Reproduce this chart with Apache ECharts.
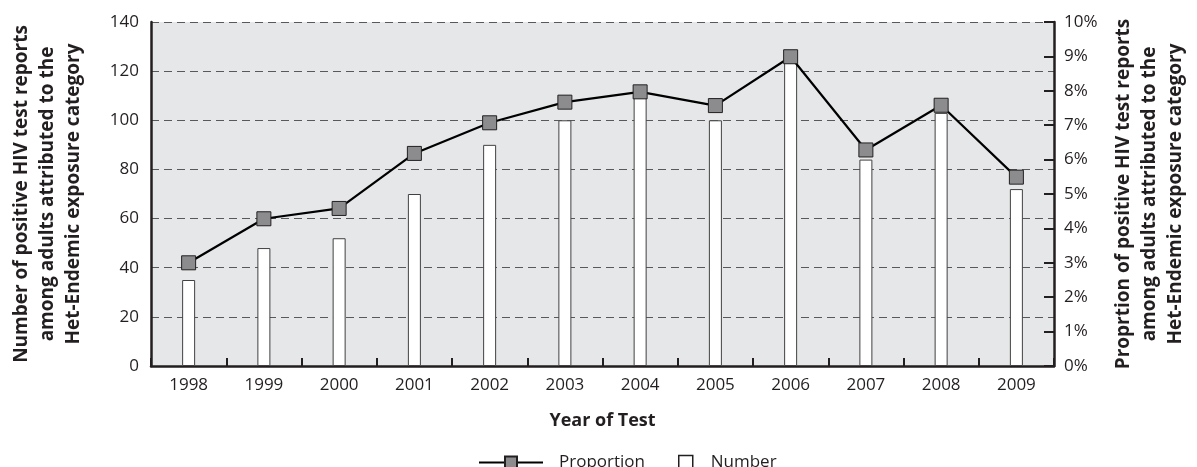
<!DOCTYPE html>
<html>
<head>
<meta charset="utf-8">
<script src="https://cdn.jsdelivr.net/npm/echarts@6/dist/echarts.min.js"></script>
<style>
html,body{margin:0;padding:0;background:#fff;}
#chart{width:1197px;height:467px;}
</style>
</head>
<body>
<div id="chart"></div>
<script>
const years = ['1998','1999','2000','2001','2002','2003','2004','2005','2006','2007','2008','2009'];
const numberValues = [35, 48, 52, 70, 90, 100, 110, 100, 124, 84, 103, 72];
const proportionValues = [3.0, 4.28, 4.58, 6.18, 7.07, 7.67, 7.97, 7.57, 8.99, 6.28, 7.58, 5.49];
const leftTicks = {min: 0, max: 140, interval: 20};
const rightTicks = {min: 0, max: 10, interval: 1};
const leftTitle = 'Number of positive HIV test reports\namong adults attributed to the\nHet-Endemic exposure category';
const rightTitle = 'Proprtion of positive HIV test reports\namong adults attributed to the\nHet-Endemic exposure category';
const xTitle = 'Year of Test';

const FONT = '"Open Sans", sans-serif';
const TXT = '#231f20';
const chart = echarts.init(document.getElementById('chart'), null, {renderer: 'canvas'});
chart.setOption({
  animation: false,
  textStyle: {fontFamily: FONT, color: TXT},
  grid: {left: 151, right: 135, top: 22, bottom: 101, show: true, backgroundColor: '#e6e7e8', borderWidth: 0},
  legend: [
    {
      left: 473, top: 449, itemWidth: 64, itemHeight: 15,
      textStyle: {fontFamily: FONT, fontSize: 17, color: TXT, padding: [0, 0, 0, 11]},
      data: [{name: 'Proportion'}]
    },
    {
      left: 673, top: 449, itemWidth: 14, itemHeight: 14,
      textStyle: {fontFamily: FONT, fontSize: 17, color: TXT, padding: [0, 0, 0, 13]},
      data: [{name: 'Number', icon: 'rect', itemStyle: {color: '#fff', borderColor: '#231f20', borderWidth: 1.5}}]
    }
  ],
  xAxis: {
    type: 'category',
    data: years,
    boundaryGap: true,
    name: xTitle,
    nameLocation: 'middle',
    nameGap: 46,
    nameTextStyle: {fontFamily: FONT, fontSize: 18, fontWeight: 'bold', color: TXT},
    axisLine: {lineStyle: {color: '#231f20', width: 2.5}},
    axisTick: {show: true, inside: true, length: 8, interval: 0, lineStyle: {color: '#231f20', width: 2}},
    axisLabel: {fontFamily: FONT, fontSize: 17, color: TXT, margin: 11},
    splitLine: {show: false}
  },
  yAxis: [
    {
      type: 'value',
      min: leftTicks.min, max: leftTicks.max, interval: leftTicks.interval,
      name: leftTitle,
      nameLocation: 'middle',
      nameRotate: 90,
      nameGap: 64,
      nameTextStyle: {fontFamily: FONT, fontSize: 19, fontWeight: 'bold', color: TXT, lineHeight: 26, align: 'center'},
      axisLine: {show: true, lineStyle: {color: '#231f20', width: 2.5}},
      axisTick: {show: false},
      axisLabel: {fontFamily: FONT, fontSize: 17, color: TXT, margin: 12},
      splitLine: {show: true, lineStyle: {color: '#58595b', width: 1, type: [8, 5]}}
    },
    {
      type: 'value',
      position: 'right',
      min: rightTicks.min, max: rightTicks.max, interval: rightTicks.interval,
      name: rightTitle,
      nameLocation: 'middle',
      nameRotate: 90,
      nameGap: 57,
      nameTextStyle: {fontFamily: FONT, fontSize: 19, fontWeight: 'bold', color: TXT, lineHeight: 26, align: 'center'},
      axisLine: {show: true, lineStyle: {color: '#231f20', width: 2.5}},
      axisTick: {show: true, inside: true, length: 10, lineStyle: {color: '#231f20', width: 2}},
      axisLabel: {fontFamily: FONT, fontSize: 17, color: TXT, margin: 10, formatter: '{value}%'},
      splitLine: {show: false}
    }
  ],
  series: [
    {
      name: 'Number',
      type: 'bar',
      yAxisIndex: 0,
      data: numberValues,
      barWidth: 13,
      itemStyle: {color: '#ffffff', borderColor: '#414042', borderWidth: 1},
      z: 2
    },
    {
      name: 'Proportion',
      type: 'line',
      yAxisIndex: 1,
      data: proportionValues,
      symbol: 'rect',
      symbolSize: 14,
      lineStyle: {color: '#000', width: 2.2},
      itemStyle: {color: '#8c8c8f', borderColor: '#231f20', borderWidth: 1},
      z: 3
    }
  ]
});
</script>
</body>
</html>
